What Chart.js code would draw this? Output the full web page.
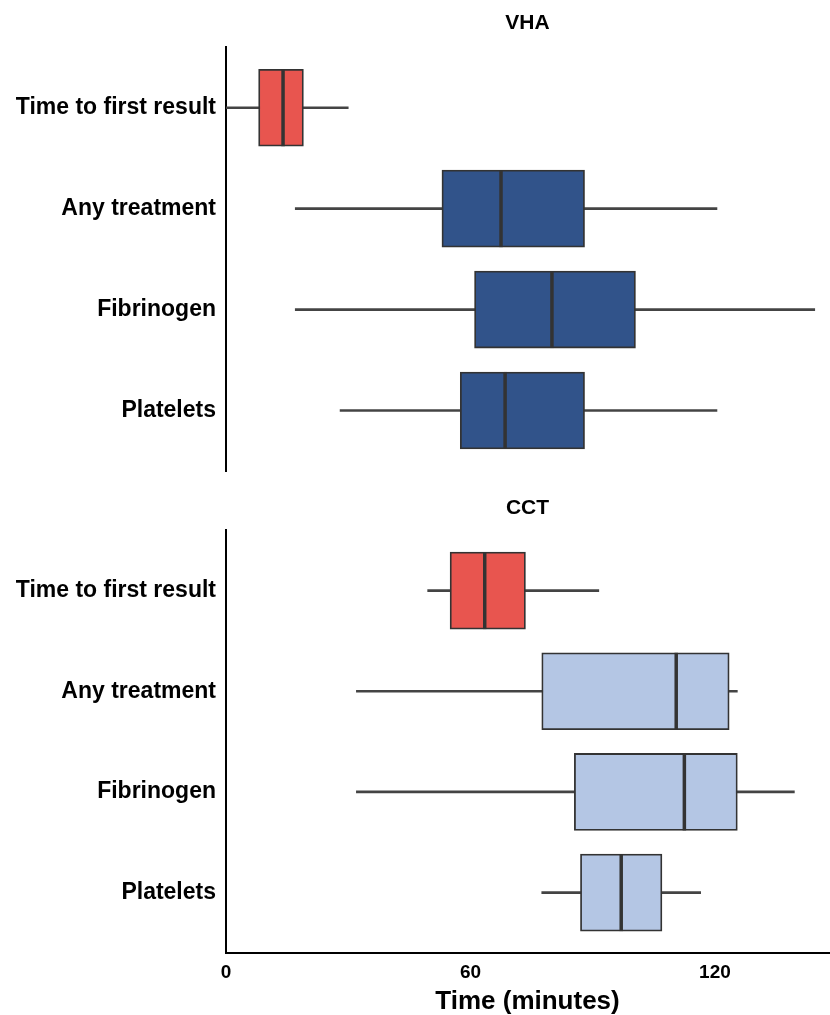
<!DOCTYPE html>
<html>
<head>
<meta charset="utf-8">
<script src="https://cdn.jsdelivr.net/npm/chart.js@4"></script>
<style>
    body { margin: 0; background: #fff; }
    .panel { position: absolute; left: 0; width: 830px; }
    #panel_vha { top: 0; height: 480px; }
    #panel_cct { top: 480px; height: 535px; }
</style>
</head>
<body>
<div class="panel" id="panel_vha"><canvas id="chart_vha"></canvas></div>
<div class="panel" id="panel_cct"><canvas id="chart_cct"></canvas></div>
<script>
const categories = ["Time to first result", "Any treatment", "Fibrinogen", "Platelets"];
const x_ticks = [0, 60, 120];

// VHA box plot stats (minutes)
const vha_min    = [0,   17,   17,    28];
const vha_q1     = [8,   53,   61,    57.5];
const vha_median = [14,  67.5, 80,    68.5];
const vha_q3     = [19,  88,   100.5, 88];
const vha_max    = [30,  120.5, 144.5, 120.5];

// CCT box plot stats (minutes)
const cct_min    = [49.5, 32,    32,    77.5];
const cct_q1     = [55,   77.5,  85.5,  87];
const cct_median = [63.5, 110.5, 112.5, 97];
const cct_q3     = [73.5, 123.5, 125.5, 107];
const cct_max    = [91.5, 125.5, 139.5, 116.5];

const FONT = "'Liberation Sans', Arial, Helvetica, sans-serif";
const RED = "#e8554f";

let box_charts =
{
    init()
    {
        this.print_panel("chart_vha", "VHA", vha_min, vha_q1, vha_median, vha_q3, vha_max,
            [RED, "#31538a", "#31538a", "#31538a"], false, {top: 11, bottom: 11});
        this.print_panel("chart_cct", "CCT", cct_min, cct_q1, cct_median, cct_q3, cct_max,
            [RED, "#b4c6e4", "#b4c6e4", "#b4c6e4"], true, {top: 16, bottom: 9});
    },

    print_panel(canvas_id, title, mins, q1s, medians, q3s, maxs, colors, show_x, title_padding)
    {
        const median_lines = {
            id: "median_lines",
            afterDatasetsDraw(chart) {
                const ctx = chart.ctx;
                const x = chart.scales.x;
                const boxes = chart.getDatasetMeta(0).data;
                ctx.save();
                ctx.strokeStyle = "#333333";
                ctx.lineWidth = 3.5;
                boxes.forEach((el, i) => {
                    const px = x.getPixelForValue(medians[i]);
                    ctx.beginPath();
                    ctx.moveTo(px, el.y - el.height / 2);
                    ctx.lineTo(px, el.y + el.height / 2);
                    ctx.stroke();
                });
                ctx.restore();
            }
        };

        new Chart(document.getElementById(canvas_id), {
            type: "bar",
            data: {
                datasets: [
                    {
                        label: "box",
                        data: categories.map((c, i) => ({ y: i, x: [q1s[i], q3s[i]] })),
                        backgroundColor: colors,
                        borderColor: "#333333",
                        borderWidth: 1.8,
                        borderSkipped: false,
                        barThickness: 77,
                        grouped: false,
                        order: 0
                    },
                    {
                        label: "whisker",
                        data: categories.map((c, i) => ({ y: i, x: [mins[i], maxs[i]] })),
                        backgroundColor: "#444444",
                        borderWidth: 0,
                        barThickness: 2,
                        grouped: false,
                        order: 1
                    }
                ]
            },
            options: {
                indexAxis: "y",
                responsive: true,
                maintainAspectRatio: false,
                animation: false,
                layout: { padding: { left: 0, right: 1, top: 0, bottom: show_x ? 0 : 9 } },
                plugins: {
                    legend: { display: false },
                    tooltip: { enabled: false },
                    title: {
                        display: true,
                        fullSize: false,
                        text: title,
                        color: "#000",
                        font: { family: FONT, size: 21, weight: "bold" },
                        padding: title_padding
                    }
                },
                scales: {
                    x: {
                        type: "linear",
                        display: show_x,
                        min: 0,
                        max: 148,
                        grid: { display: false, drawTicks: false, tickLength: 0 },
                        border: { display: true, color: "#000", width: 2 },
                        afterBuildTicks: scale => { scale.ticks = x_ticks.map(v => ({ value: v })); },
                        afterFit: scale => { if (show_x) scale.height = 62; },
                        ticks: {
                            color: "#000",
                            padding: 8,
                            font: { family: FONT, size: 19, weight: "bold" }
                        },
                        title: {
                            display: true,
                            text: "Time (minutes)",
                            color: "#000",
                            padding: { top: 0, bottom: 0 },
                            font: { family: FONT, size: 26, weight: "bold", lineHeight: 1 }
                        }
                    },
                    y: {
                        type: "linear",
                        reverse: true,
                        offset: false,
                        min: -0.6,
                        max: 3.6,
                        grid: { display: false, offset: false, drawTicks: false, tickLength: 0 },
                        border: { display: true, color: "#000", width: 2 },
                        afterBuildTicks: scale => { scale.ticks = categories.map((c, i) => ({ value: i })); },
                        afterFit: scale => {
                            scale.width = 226;
                            scale.paddingTop = 0;
                            scale.paddingBottom = 0;
                        },
                        ticks: {
                            color: "#000",
                            padding: 10,
                            font: { family: FONT, size: 23, weight: "bold" },
                            callback: value => categories[value]
                        }
                    }
                }
            },
            plugins: [median_lines]
        });
    }
}

box_charts.init();
</script>
</body>
</html>
